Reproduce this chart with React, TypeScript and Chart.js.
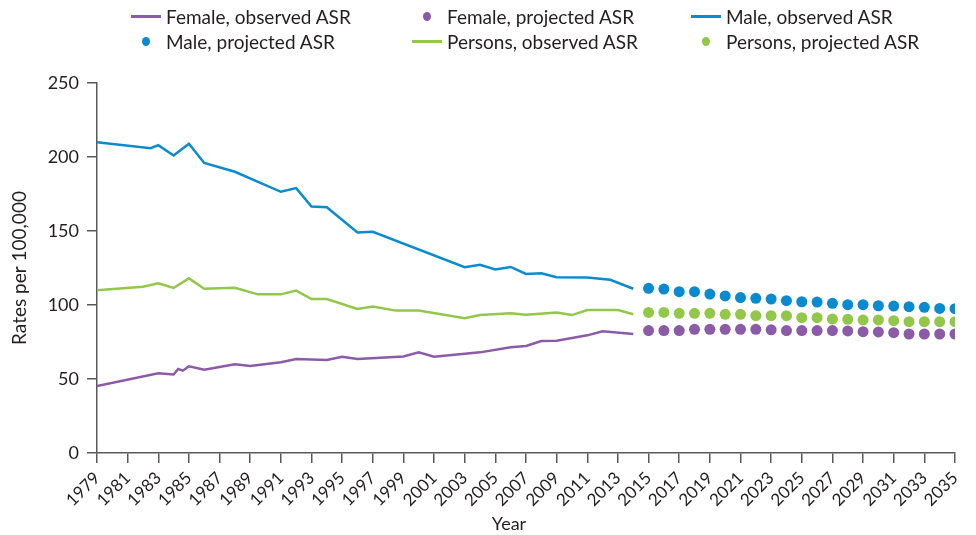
import React, { useEffect, useRef } from "react";
import { Chart, registerables } from "chart.js";

Chart.register(...registerables);

const FONT = "Lato, 'Noto Sans', sans-serif";
const TEXT = "#231f20";
const AXIS = "#595959";

const PURPLE = "#8b5ba7";
const BLUE = "#0a8acf";
const GREEN = "#92c74a";

// Observed series (vertex years and values)
const femaleObsYears = [1979, 1983, 1984, 1984.3, 1984.6, 1985, 1986, 1988, 1989, 1991, 1992, 1994, 1995, 1996, 1999, 2000, 2001, 2004, 2006, 2007, 2008, 2009, 2011, 2012, 2014];
const femaleObsValues = [45.3, 53.8, 53, 56.8, 55.6, 58.6, 56.3, 60, 58.8, 61.3, 63.5, 62.8, 65, 63.5, 65.2, 68, 65, 68, 71.4, 72.3, 75.7, 75.9, 79.5, 82.2, 80.4];

const maleObsYears = [1979, 1982.5, 1983, 1984, 1985, 1986, 1988, 1991, 1992, 1993, 1994, 1996, 1997, 2003, 2004, 2005, 2006, 2007, 2008, 2009, 2011, 2012.5, 2014];
const maleObsValues = [210, 206, 208, 201, 209, 196, 190, 176.5, 179, 166.5, 166, 149, 149.5, 125.5, 127.2, 124, 125.7, 121, 121.4, 118.7, 118.5, 117, 111];

const personsObsYears = [1979, 1982, 1983, 1984, 1985, 1986, 1988, 1989.5, 1991, 1992, 1993, 1994, 1996, 1997, 1998.5, 2000, 2003, 2004, 2006, 2007, 2009, 2010, 2011, 2013, 2014];
const personsObsValues = [110, 112.4, 114.6, 111.5, 118, 111, 111.7, 107.2, 107.2, 109.7, 104, 104, 97.3, 98.9, 96.2, 96.2, 91, 93.2, 94.4, 93.4, 95, 93.2, 96.6, 96.6, 93.7];

// Projected series
const projYears = [2015, 2016, 2017, 2018, 2019, 2020, 2021, 2022, 2023, 2024, 2025, 2026, 2027, 2028, 2029, 2030, 2031, 2032, 2033, 2034, 2035];
const femaleProj = [82.7, 82.7, 82.7, 83.6, 83.6, 83.6, 83.6, 83.6, 83.2, 82.7, 82.7, 82.7, 82.7, 82.5, 82, 81.8, 81.3, 80.4, 80.4, 80.4, 80.4];
const maleProj = [111.3, 110.8, 109, 109, 107.4, 106.1, 105, 104.5, 104, 102.9, 102.2, 102, 101.1, 100.2, 100.2, 99.5, 99.3, 98.9, 98.4, 97.7, 97.5];
const personsProj = [95, 95, 94.4, 94.4, 94.4, 93.7, 93.7, 92.8, 92.8, 92.8, 91.4, 91.4, 90.5, 90.3, 89.9, 89.9, 89.4, 88.7, 88.7, 88.7, 88.7];

const toPts = (xs: number[], ys: number[]) => xs.map((x, i) => ({ x, y: ys[i] }));

type LegendItem = { label: string; color: string; kind: "line" | "dot"; left: number; top: number };
const legendItems: LegendItem[] = [
  { label: "Female, observed ASR", color: PURPLE, kind: "line", left: 131, top: 16 },
  { label: "Female, projected ASR", color: PURPLE, kind: "dot", left: 412, top: 16 },
  { label: "Male, observed ASR", color: BLUE, kind: "line", left: 691, top: 16 },
  { label: "Male, projected ASR", color: BLUE, kind: "dot", left: 131, top: 41 },
  { label: "Persons, observed ASR", color: GREEN, kind: "line", left: 412, top: 41 },
  { label: "Persons, projected ASR", color: GREEN, kind: "dot", left: 691, top: 41 },
];

export default function App() {
  const canvasRef = useRef<HTMLCanvasElement | null>(null);

  useEffect(() => {
    document.body.style.margin = "0";
    const ctx = canvasRef.current;
    if (!ctx) return;
    const lineDs = (label: string, xs: number[], ys: number[], color: string) => ({
      label,
      data: toPts(xs, ys),
      borderColor: color,
      backgroundColor: color,
      borderWidth: 2.5,
      pointRadius: 0,
      tension: 0,
      fill: false,
    });
    const dotDs = (label: string, ys: number[], color: string) => ({
      label,
      data: toPts(projYears, ys),
      borderColor: color,
      backgroundColor: color,
      showLine: false,
      pointRadius: 5.5,
      pointBorderWidth: 0,
      fill: false,
    });
    const chart = new Chart(ctx, {
      type: "line",
      data: {
        datasets: [
          lineDs("Female, observed ASR", femaleObsYears, femaleObsValues, PURPLE),
          dotDs("Female, projected ASR", femaleProj, PURPLE),
          lineDs("Male, observed ASR", maleObsYears, maleObsValues, BLUE),
          dotDs("Male, projected ASR", maleProj, BLUE),
          lineDs("Persons, observed ASR", personsObsYears, personsObsValues, GREEN),
          dotDs("Persons, projected ASR", personsProj, GREEN),
        ],
      },
      options: {
        responsive: false,
        animation: false,
        layout: { padding: { top: 83, right: 21, bottom: 0, left: 0 } },
        plugins: { legend: { display: false }, tooltip: { enabled: false } },
        scales: {
          x: {
            type: "linear",
            min: 1979,
            max: 2035,
            border: { display: true, color: AXIS, width: 1.5 },
            grid: { display: true, drawOnChartArea: false, drawTicks: true, tickLength: 10, color: AXIS, lineWidth: 1.5 },
            ticks: {
              stepSize: 2,
              autoSkip: false,
              minRotation: 45,
              maxRotation: 45,
              color: TEXT,
              font: { family: FONT, size: 17 },
              padding: 5,
              callback: (v: any) => String(v),
            },
            title: { display: false, text: "Year" },
            afterFit: (s: any) => { s.height = 82; },
          },
          y: {
            min: 0,
            max: 250,
            border: { display: true, color: AXIS, width: 1.5 },
            grid: { display: true, drawOnChartArea: false, drawTicks: true, tickLength: 10, color: AXIS, lineWidth: 1.5 },
            ticks: { stepSize: 50, color: TEXT, font: { family: FONT, size: 18 }, padding: 8 },
            title: { display: true, text: "Rates per 100,000", color: TEXT, font: { family: FONT, size: 19 }, padding: { top: 8, bottom: 0 } },
            afterFit: (s: any) => { s.width = 97; },
          },
        },
      },
    } as any);
    return () => chart.destroy();
  }, []);

  return (
    <div style={{ position: "absolute", left: 0, top: 0, width: 976, height: 535, background: "#fff" }}>
      <canvas ref={canvasRef} width={976} height={535} style={{ display: "block", width: 976, height: 535 }} />
      {legendItems.map((it) => (
        <div
          key={it.label}
          style={{
            position: "absolute",
            left: it.left,
            top: it.top - 11,
            height: 22,
            display: "flex",
            alignItems: "center",
            fontFamily: FONT,
            fontSize: 19,
            color: TEXT,
            whiteSpace: "nowrap",
          }}
        >
          <span style={{ width: 30, height: 22, display: "flex", alignItems: "center", justifyContent: "center", marginRight: 5 }}>
            {it.kind === "line" ? (
              <span style={{ display: "block", width: 30, height: 3, background: it.color }} />
            ) : (
              <span style={{ display: "block", width: 8, height: 9, borderRadius: "50%", background: it.color }} />
            )}
          </span>
          <span>{it.label}</span>
        </div>
      ))}
      <div
        style={{
          position: "absolute",
          left: 509,
          top: 523,
          transform: "translate(-50%, -50%)",
          fontFamily: FONT,
          fontSize: 18,
          color: TEXT,
          whiteSpace: "nowrap",
          lineHeight: 1,
        }}
      >
        Year
      </div>
    </div>
  );
}
